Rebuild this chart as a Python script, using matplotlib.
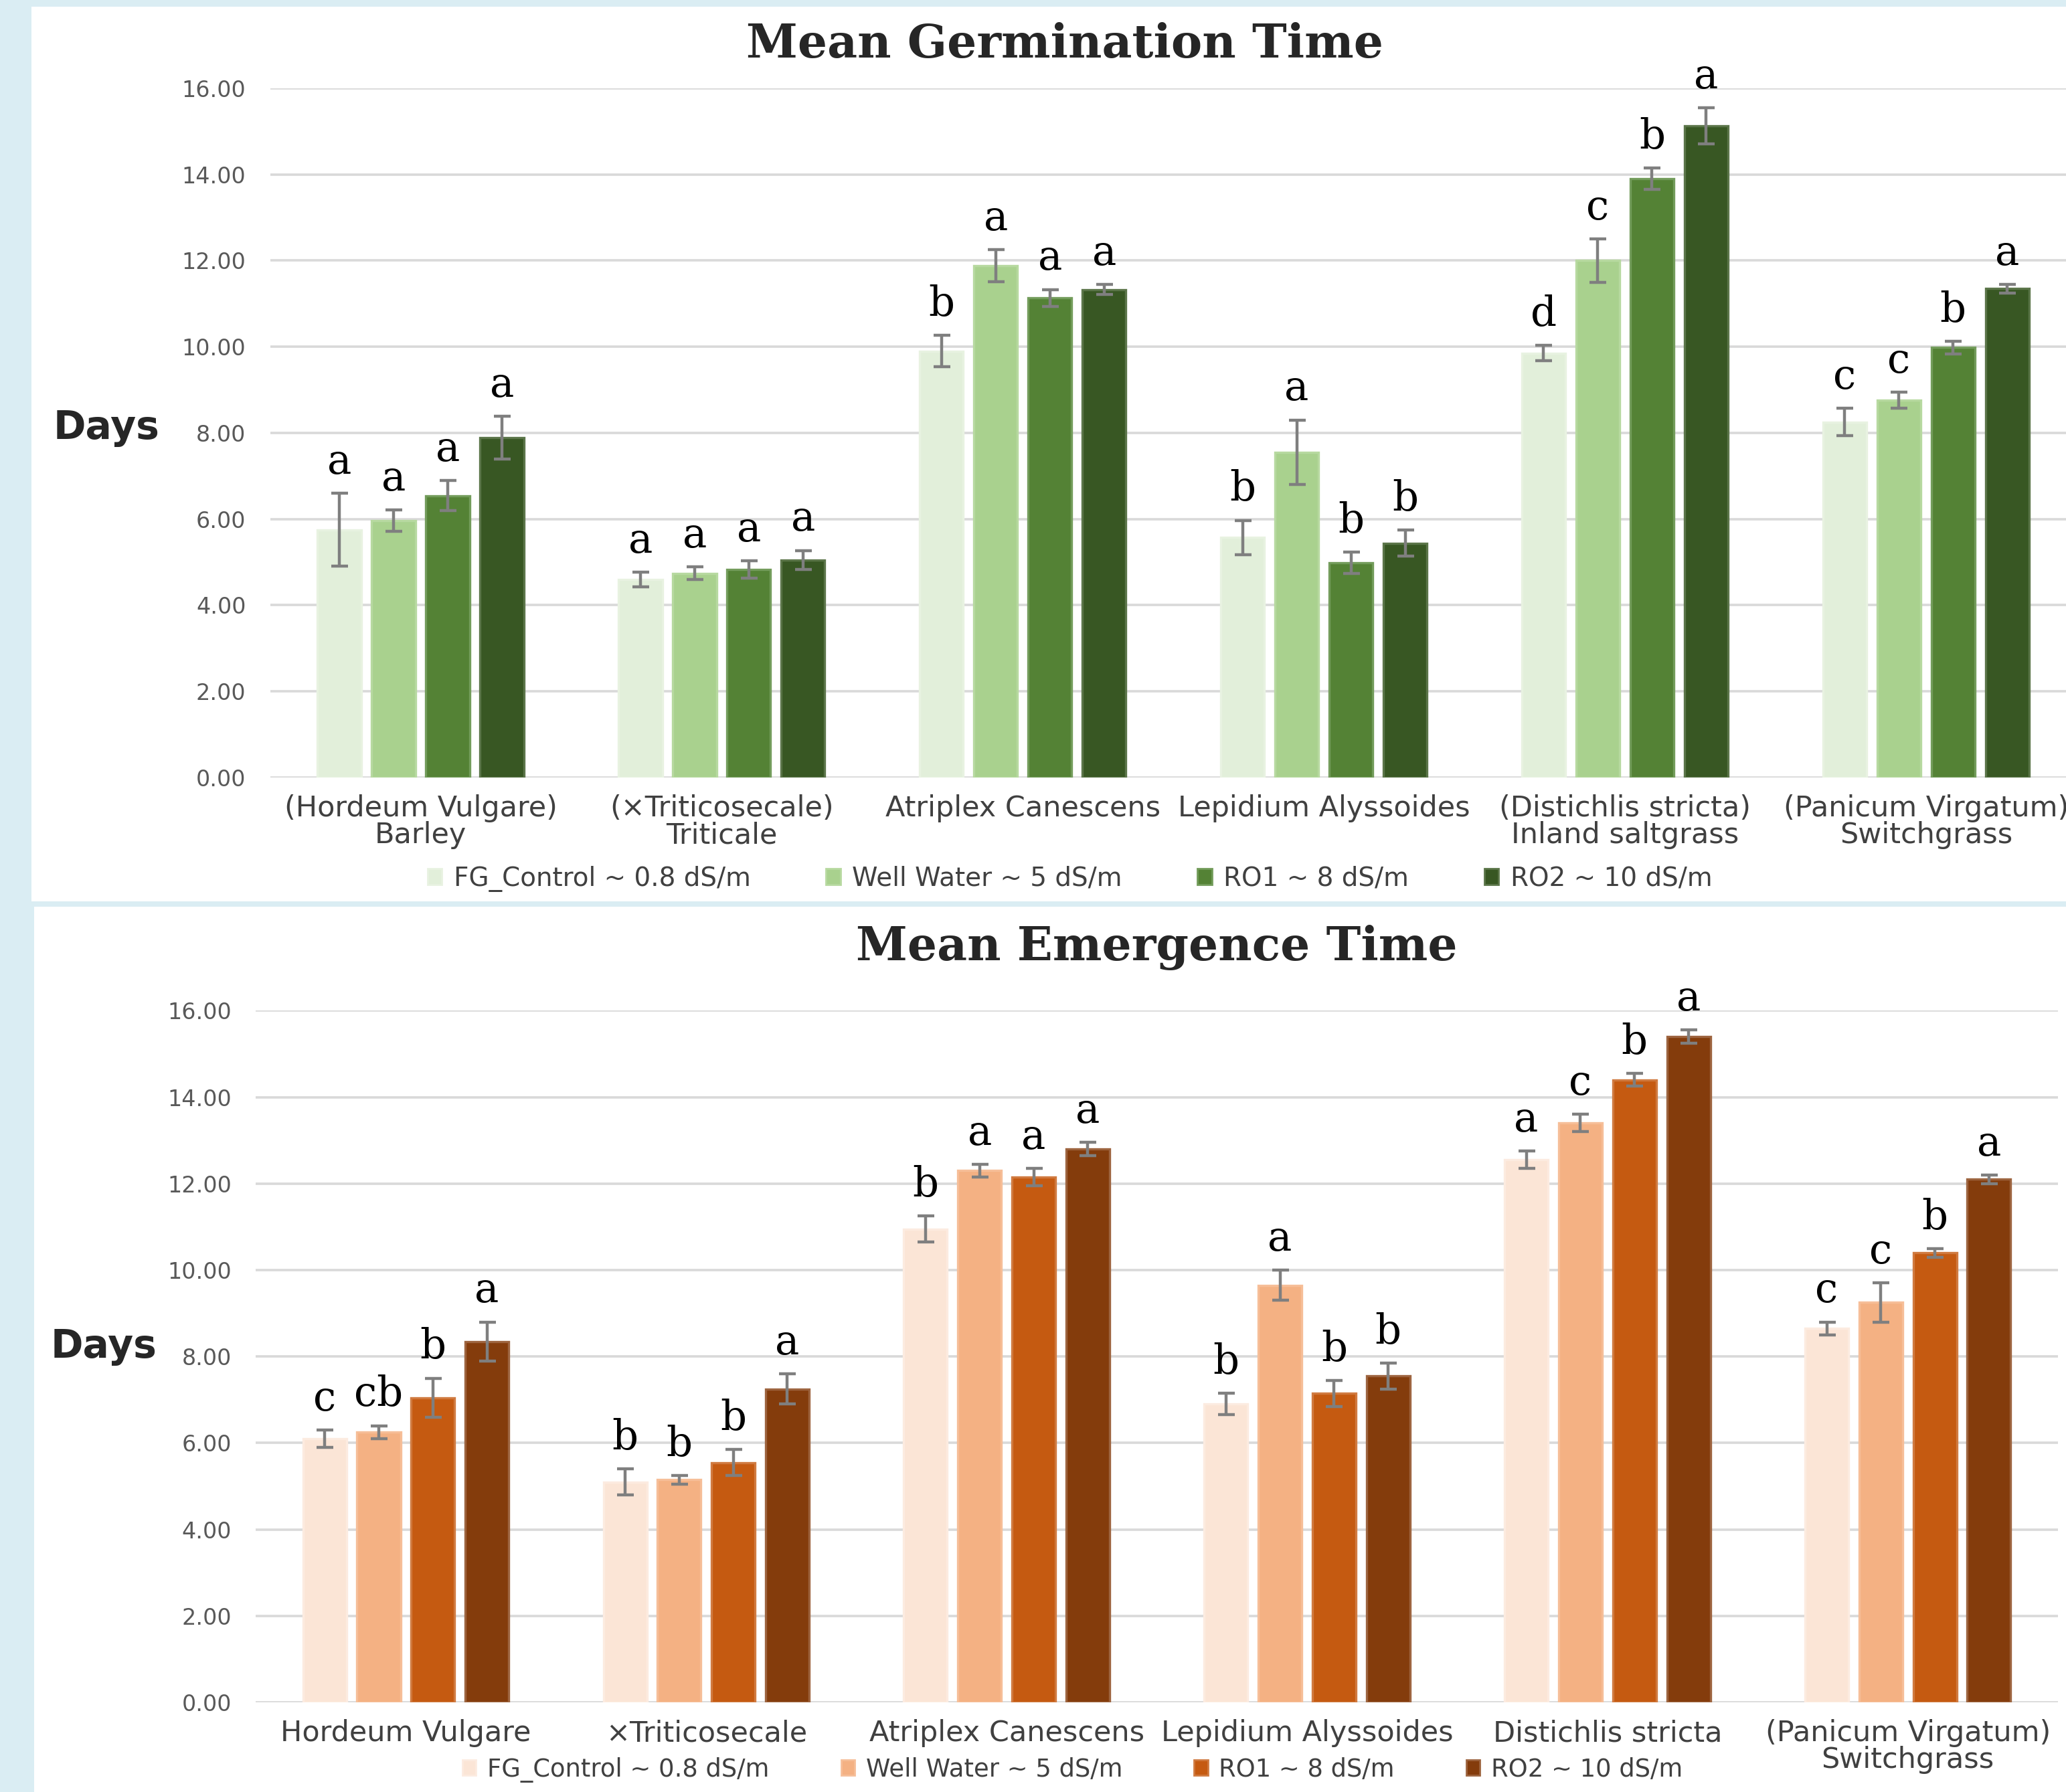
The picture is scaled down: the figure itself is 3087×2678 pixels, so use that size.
import matplotlib
matplotlib.use('Agg')
import matplotlib.pyplot as plt
import numpy as np
from matplotlib.patches import Rectangle, Patch

plt.rcParams['font.family'] = 'DejaVu Sans'

# ---- data ----
germ_categories = ['(Hordeum Vulgare)\nBarley', '(×Triticosecale)\nTriticale', 'Atriplex Canescens',
                   'Lepidium Alyssoides', '(Distichlis stricta)\nInland saltgrass', '(Panicum Virgatum)\nSwitchgrass']
emerg_categories = ['Hordeum Vulgare', '×Triticosecale', 'Atriplex Canescens',
                    'Lepidium Alyssoides', 'Distichlis stricta', '(Panicum Virgatum)\nSwitchgrass']
series_labels = ['FG_Control ~ 0.8 dS/m', 'Well Water ~ 5 dS/m', 'RO1 ~ 8 dS/m', 'RO2 ~ 10 dS/m']

# Mean germination time (days)
germ_fg = [5.75, 4.59, 9.90, 5.57, 9.85, 8.25]
germ_fg_err = [0.85, 0.17, 0.37, 0.40, 0.18, 0.32]
germ_ww = [5.96, 4.74, 11.88, 7.55, 12.00, 8.76]
germ_ww_err = [0.25, 0.15, 0.37, 0.75, 0.50, 0.18]
germ_ro1 = [6.54, 4.83, 11.13, 4.98, 13.90, 9.98]
germ_ro1_err = [0.35, 0.20, 0.20, 0.25, 0.25, 0.15]
germ_ro2 = [7.89, 5.05, 11.33, 5.44, 15.13, 11.35]
germ_ro2_err = [0.50, 0.22, 0.12, 0.30, 0.42, 0.10]
germ_letters = [['a', 'a', 'b', 'b', 'd', 'c'],
                ['a', 'a', 'a', 'a', 'c', 'c'],
                ['a', 'a', 'a', 'b', 'b', 'b'],
                ['a', 'a', 'a', 'b', 'a', 'a']]

# Mean emergence time (days)
emerg_fg = [6.10, 5.10, 10.95, 6.90, 12.55, 8.65]
emerg_fg_err = [0.20, 0.30, 0.30, 0.25, 0.20, 0.15]
emerg_ww = [6.25, 5.15, 12.30, 9.65, 13.40, 9.25]
emerg_ww_err = [0.15, 0.10, 0.15, 0.35, 0.20, 0.45]
emerg_ro1 = [7.05, 5.55, 12.15, 7.15, 14.40, 10.40]
emerg_ro1_err = [0.45, 0.30, 0.20, 0.30, 0.15, 0.10]
emerg_ro2 = [8.35, 7.25, 12.80, 7.55, 15.40, 12.10]
emerg_ro2_err = [0.45, 0.35, 0.15, 0.30, 0.15, 0.10]
emerg_letters = [['c', 'b', 'b', 'b', 'a', 'c'],
                 ['cb', 'b', 'a', 'a', 'c', 'c'],
                 ['b', 'b', 'a', 'b', 'b', 'b'],
                 ['a', 'a', 'a', 'b', 'a', 'a']]

greens = ['#E2EFDA', '#A9D18E', '#548235', '#385723']
green_edges = ['#E8F2E1', '#B7D9A0', '#739C5B', '#5B7549']
oranges = ['#FBE5D6', '#F4B183', '#C55A11', '#843C0C']
orange_edges = ['#FCEBE0', '#F6BE98', '#D07A40', '#9D643F']

W, H = 1568, 1360  # reference layout units
fig = plt.figure(figsize=(15.435, 13.39), dpi=200, facecolor='#DAEDF3')

# white panels behind each chart
fig.patches.append(Rectangle((24 / W, 1 - 684 / H), 1, 679 / H, transform=fig.transFigure,
                             facecolor='white', edgecolor='none', zorder=-5))
fig.patches.append(Rectangle((26 / W, 0), 1, 1 - 688 / H, transform=fig.transFigure,
                             facecolor='white', edgecolor='none', zorder=-5))


def draw_panel(ax, categories, values, errors, letters, colors, edges):
    x = np.arange(len(categories))
    step, width = 0.18, 0.145
    for i in range(4):
        xs = x + (i - 1.5) * step
        ax.bar(xs, values[i], width=width, color=colors[i], edgecolor=edges[i],
               linewidth=1.2, zorder=2)
        ax.errorbar(xs, values[i], yerr=errors[i], fmt='none', ecolor='#7F7F7F',
                    elinewidth=1.6, capsize=4.5, capthick=1.6, zorder=3)
        for xi, v, e, lab in zip(xs, values[i], errors[i], letters[i]):
            ax.text(xi, v + e + 0.25, lab, ha='center', va='bottom', fontsize=22,
                    family='DejaVu Serif', color='black', zorder=4)
    ax.set_xlim(-0.5, len(categories) - 0.5)
    ax.set_ylim(0, 16)
    ax.set_yticks(np.arange(0, 17, 2))
    ax.set_yticklabels([f'{t:.2f}' for t in np.arange(0, 17, 2)])
    ax.set_xticks(x)
    ax.set_xticklabels(categories, fontsize=15.5, color='#404040', linespacing=0.95)
    ax.tick_params(axis='y', length=0, pad=13, labelsize=12, labelcolor='#595959')
    ax.tick_params(axis='x', length=0, pad=9)
    for s in ax.spines.values():
        s.set_visible(False)
    ax.grid(axis='y', color='#D9D9D9', linewidth=1.3, zorder=0)
    ax.set_axisbelow(True)
    ax.set_facecolor('none')


ax1 = fig.add_axes([205 / W, 1 - 590 / H, 1371 / W, 523 / H], zorder=2)
draw_panel(ax1, germ_categories,
           [germ_fg, germ_ww, germ_ro1, germ_ro2],
           [germ_fg_err, germ_ww_err, germ_ro1_err, germ_ro2_err],
           germ_letters, greens, green_edges)

ax2 = fig.add_axes([194 / W, 1 - 1292 / H, 1368 / W, 525 / H], zorder=2)
draw_panel(ax2, emerg_categories,
           [emerg_fg, emerg_ww, emerg_ro1, emerg_ro2],
           [emerg_fg_err, emerg_ww_err, emerg_ro1_err, emerg_ro2_err],
           emerg_letters, oranges, orange_edges)

# titles and axis labels
fig.text(808 / W, 1 - 34 / H, 'Mean Germination Time', ha='center', va='center',
         fontsize=25, fontweight='bold', family='DejaVu Serif', color='#262626')
fig.text(878 / W, 1 - 719 / H, 'Mean Emergence Time', ha='center', va='center',
         fontsize=25, fontweight='bold', family='DejaVu Serif', color='#262626')
fig.text(81 / W, 1 - 325 / H, 'Days', ha='center', va='center', fontsize=21,
         fontweight='bold', color='#262626')
fig.text(79 / W, 1 - 1022 / H, 'Days', ha='center', va='center', fontsize=21,
         fontweight='bold', color='#262626')

# legends
for colors, edges, ypos, xpos, fs in [(greens, green_edges, 667, 812, 14),
                                      (oranges, orange_edges, 1343, 814, 13.3)]:
    handles = [Patch(facecolor=c, edgecolor=e) for c, e in zip(colors, edges)]
    fig.legend(handles, series_labels, loc='center', bbox_to_anchor=(xpos / W, 1 - ypos / H),
               ncol=4, frameon=False, fontsize=fs, handlelength=0.55, handleheight=0.55,
               handletextpad=0.45, columnspacing=2.9, labelcolor='#404040')

fig.savefig('out.png', dpi=200, facecolor=fig.get_facecolor())
